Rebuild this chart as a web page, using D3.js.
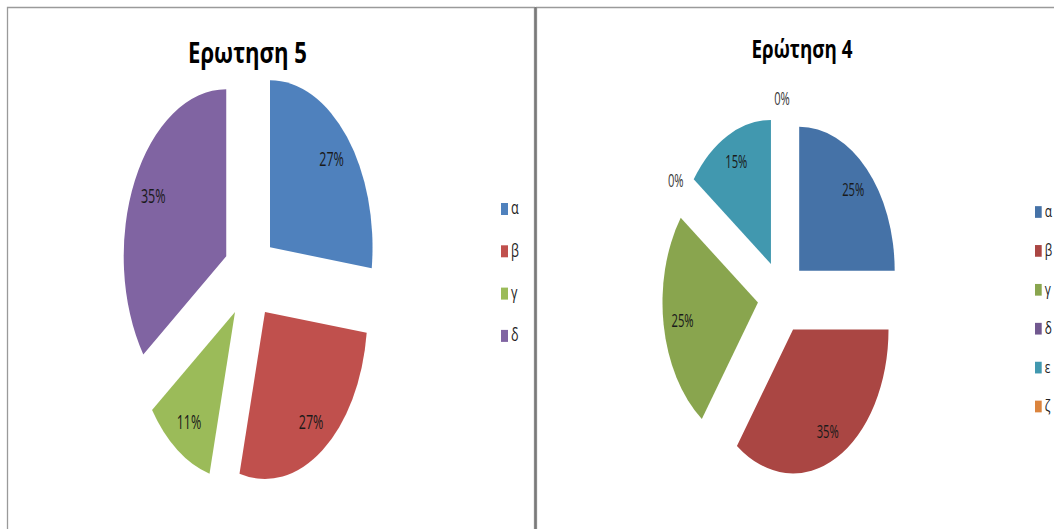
<!DOCTYPE html>
<html>
<head>
<meta charset="utf-8">
<script src="https://cdn.jsdelivr.net/npm/d3@7"></script>
<style>
  html, body { margin: 0; padding: 0; background: #fff; }
  svg { display: block; }
  text { font-family: "Open Sans", "Noto Sans", "DejaVu Sans", sans-serif; }
</style>
</head>
<body>
<svg id="chart" width="1054" height="529"></svg>
<script>
// Ερωτηση 5
const title5 = "Ερωτηση 5";
const categories5 = ["α", "β", "γ", "δ"];
const values5 = [27, 27, 11, 35];
const colors5 = ["#4F81BD", "#C0504D", "#9BBB59", "#8064A2"];

// Ερώτηση 4
const title4 = "Ερώτηση 4";
const categories4 = ["α", "β", "γ", "δ", "ε", "ζ"];
const values4 = [25, 35, 25, 0, 15, 0];
const colors4 = ["#4572A7", "#AA4643", "#89A54E", "#71588F", "#4198AF", "#DB843D"];

const svg = d3.select("#chart");

// panel frames
svg.append("path")
  .attr("d", "M7.5,529V7.5H534.5V529")
  .attr("fill", "none").attr("stroke", "#9a9a9a").attr("stroke-width", 1.3);
svg.append("path")
  .attr("d", "M536.5,529V7.5H1054")
  .attr("fill", "none").attr("stroke", "#9a9a9a").attr("stroke-width", 1.3);
svg.append("line")
  .attr("x1", 535.5).attr("x2", 535.5).attr("y1", 7).attr("y2", 529)
  .attr("stroke", "#7a7a7a").attr("stroke-width", 2);

// horizontally squeeze a text element to a given width
function fitWidth(sel, x, y, width) {
  const w = sel.node().getComputedTextLength();
  sel.attr("transform", `translate(${x},${y}) scale(${width / w},1)`);
}

function drawPie(cfg) {
  const g = svg.append("g").attr("transform", `translate(${cfg.cx},${cfg.cy})`);
  const pie = d3.pie().sort(null).value(d => d)(cfg.values);
  const arc = d3.arc().innerRadius(0).outerRadius(cfg.r);
  const total = d3.sum(cfg.values);

  pie.forEach((p, i) => {
    const mid = (p.startAngle + p.endAngle) / 2;
    const ox = cfg.explode * cfg.r * Math.sin(mid);
    const oy = -cfg.explode * cfg.r * Math.cos(mid);
    if (p.value > 0) {
      g.append("path")
        .attr("transform", `scale(${cfg.kx},1) translate(${ox},${oy})`)
        .attr("d", arc(p))
        .attr("fill", cfg.colors[i]);
    }
    const lr = p.value > 0 ? cfg.labelR : cfg.outsideR;
    const lx = cfg.kx * (ox + lr * cfg.r * Math.sin(mid));
    const ly = oy - lr * cfg.r * Math.cos(mid);
    g.append("text")
      .attr("transform", `translate(${lx},${ly}) scale(${cfg.labelSx},1)`)
      .attr("text-anchor", "middle")
      .attr("dy", "0.36em")
      .attr("font-size", cfg.labelSize)
      .attr("fill", p.value > 0 ? "#1a1a1a" : "#3a3a3a")
      .text(Math.round(p.value / total * 100) + "%");
  });

  const t = svg.append("text")
    .attr("text-anchor", "middle")
    .attr("font-size", cfg.titleSize)
    .attr("font-weight", "bold")
    .attr("fill", "#000")
    .text(cfg.title);
  fitWidth(t, cfg.titleX, cfg.titleY, cfg.titleW);

  const leg = svg.append("g");
  cfg.categories.forEach((c, i) => {
    const y = cfg.legY + i * cfg.legStep;
    leg.append("rect")
      .attr("x", cfg.legX).attr("y", y - cfg.sqH / 2)
      .attr("width", cfg.sqW).attr("height", cfg.sqH)
      .attr("fill", cfg.colors[i]);
    leg.append("text")
      .attr("transform", `translate(${cfg.legX + cfg.sqW + 3},${y}) scale(${cfg.legSx},1)`)
      .attr("dy", "0.3em")
      .attr("font-size", cfg.legSize)
      .attr("fill", "#222")
      .text(c);
  });
}

drawPie({
  title: title5, categories: categories5, values: values5, colors: colors5,
  cx: 250, cy: 276, r: 167, kx: 0.614, explode: 0.26,
  labelR: 0.8, outsideR: 1.12, labelSize: 19.5, labelSx: 0.64,
  titleX: 247.5, titleY: 63, titleW: 119, titleSize: 29,
  legX: 501, legY: 209, legStep: 42.3, sqW: 7, sqH: 12, legSize: 18, legSx: 0.7
});

drawPie({
  title: title4, categories: categories4, values: values4, colors: colors4,
  cx: 782, cy: 296.7, r: 144, kx: 0.663, explode: 0.255,
  labelR: 0.8, outsideR: 1.12, labelSize: 17.8, labelSx: 0.63,
  titleX: 802, titleY: 58, titleW: 101, titleSize: 25,
  legX: 1035, legY: 212, legStep: 38.9, sqW: 6.7, sqH: 11.7, legSize: 17, legSx: 0.7
});
</script>
</body>
</html>
